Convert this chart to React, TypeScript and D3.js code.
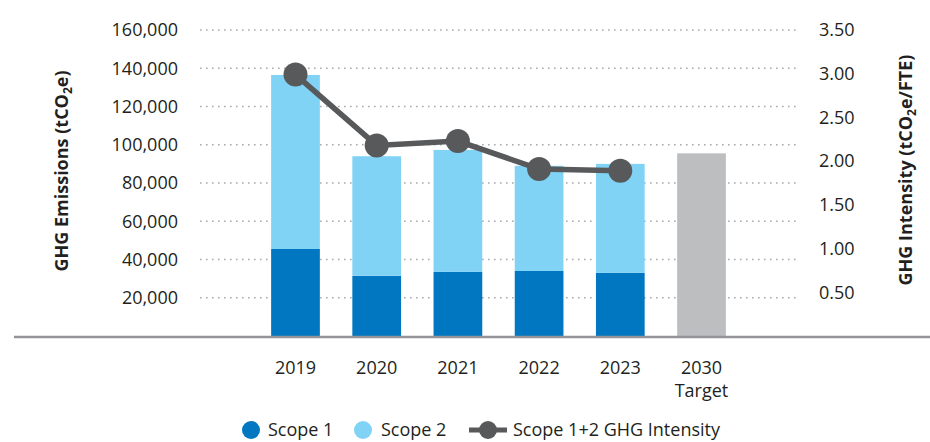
import * as d3 from "d3";

const categories = ["2019", "2020", "2021", "2022", "2023", "2030"];
const subLabels = ["", "", "", "", "", "Target"];
const scope1 = [45500, 31500, 33500, 34000, 33000, 0];
const scope2 = [91000, 62500, 63800, 55000, 57000, 0];
const target = [0, 0, 0, 0, 0, 95500];
const intensity = [2.99, 2.18, 2.23, 1.91, 1.89];
const leftTicks = [20000, 40000, 60000, 80000, 100000, 120000, 140000, 160000];
const rightTicks = [0.5, 1, 1.5, 2, 2.5, 3, 3.5];

const width = 930;
const height = 442;
const plotLeft = 200;
const plotRight = 797;
const baseY = 336;
const topY = 30;
const font = "'Open Sans', sans-serif";

const App = () => {
    const x = d3.scaleBand(categories, [plotLeft, plotRight]).paddingInner(0.4).paddingOuter(0.876);
    const y = d3.scaleLinear([0, 160000], [baseY, topY]);
    const y2 = d3.scaleLinear([0, 3.5], [baseY, topY]);
    const fmt = d3.format(",");
    const fmt2 = d3.format(".2f");

    const cx = (i) => x(categories[i]) + x.bandwidth() / 2;
    const line = d3.line((d, i) => cx(i), (d) => y2(d));

    return (
        <svg width={width} height={height} style={{position: "absolute", left: 0, top: 0}} fontFamily={font}>
            {/* grid */}
            <g stroke="#a7a9ac" strokeWidth="1.6" strokeDasharray="1.6 4.4">
                {leftTicks.map(t => (
                    <line key={t} x1={plotLeft} x2={plotRight} y1={y(t)} y2={y(t)} />
                ))}
            </g>
            {/* left ticks */}
            <g fontSize="18" fill="#231f20" textAnchor="end">
                {leftTicks.map(t => (
                    <text key={t} x={178} y={y(t)} dy="0.35em">{fmt(t)}</text>
                ))}
            </g>
            {/* right ticks */}
            <g fontSize="18" fill="#231f20" textAnchor="start">
                {rightTicks.map(t => (
                    <text key={t} x={819} y={y2(t)} dy="0.35em">{fmt2(t)}</text>
                ))}
            </g>
            {/* bars */}
            {categories.map((c, i) => (
                <g key={c}>
                    {scope1[i] > 0 && <rect x={x(c)} width={x.bandwidth()} y={y(scope1[i])} height={baseY - y(scope1[i])} fill="#0077c0" />}
                    {scope2[i] > 0 && <rect x={x(c)} width={x.bandwidth()} y={y(scope1[i] + scope2[i])} height={y(scope1[i]) - y(scope1[i] + scope2[i])} fill="#81d3f6" />}
                    {target[i] > 0 && <rect x={x(c)} width={x.bandwidth()} y={y(target[i])} height={baseY - y(target[i])} fill="#bcbec0" />}
                </g>
            ))}
            {/* baseline */}
            <line x1={14} x2={930} y1={baseY + 1} y2={baseY + 1} stroke="#939598" strokeWidth="2.5" />
            {/* intensity line */}
            <path d={line(intensity)} fill="none" stroke="#58595b" strokeWidth="5.5" />
            {intensity.map((d, i) => (
                <circle key={i} cx={cx(i)} cy={y2(d)} r="12" fill="#58595b" />
            ))}
            {/* x labels */}
            <g fontSize="18" fill="#231f20" textAnchor="middle">
                {categories.map((c, i) => (
                    <text key={c} x={cx(i)} y={374}>
                        {c}
                        {subLabels[i] && <tspan x={cx(i)} dy="23">{subLabels[i]}</tspan>}
                    </text>
                ))}
            </g>
            {/* axis titles */}
            <text transform={`translate(68,171) rotate(-90)`} textAnchor="middle" fontSize="18" fontWeight="bold" fill="#231f20">
                GHG Emissions (tCO<tspan fontSize="12" dy="4">2</tspan><tspan dy="-4">e)</tspan>
            </text>
            <text transform={`translate(912,170) rotate(-90)`} textAnchor="middle" fontSize="18" fontWeight="bold" fill="#231f20">
                GHG Intensity (tCO<tspan fontSize="12" dy="4">2</tspan><tspan dy="-4">e/FTE)</tspan>
            </text>
            {/* legend */}
            <g fontSize="18" fill="#231f20">
                <circle cx={251} cy={430} r="9" fill="#0077c0" />
                <text x={268} y={430} dy="0.35em">Scope 1</text>
                <circle cx={363} cy={430} r="9" fill="#81d3f6" />
                <text x={381} y={430} dy="0.35em">Scope 2</text>
                <line x1={469} x2={507} y1={430} y2={430} stroke="#58595b" strokeWidth="5" />
                <circle cx={488} cy={430} r="9" fill="#58595b" />
                <text x={513} y={430} dy="0.35em">Scope 1+2 GHG Intensity</text>
            </g>
        </svg>
    );
};

export default App;
